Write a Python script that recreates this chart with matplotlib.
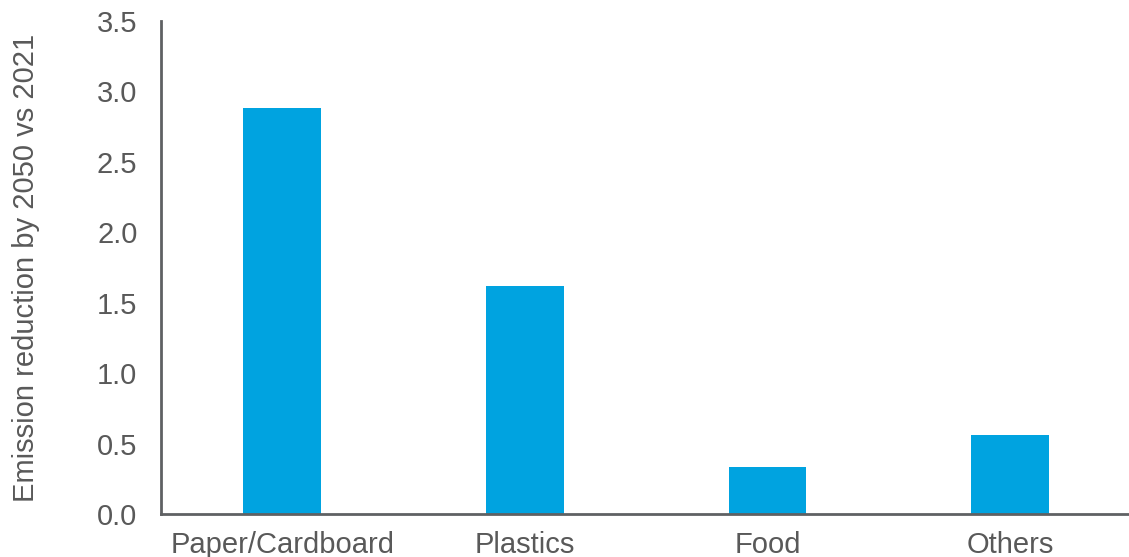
import matplotlib.pyplot as plt

# values
categories = ['Paper/Cardboard', 'Plastics', 'Food', 'Others']
reduction = [2.88, 1.62, 0.335, 0.56]
y_ticks = [0.0, 0.5, 1.0, 1.5, 2.0, 2.5, 3.0, 3.5]

plt.rcParams['font.family'] = ['Liberation Sans', 'DejaVu Sans']

fig = plt.figure(figsize=(11.29, 5.57), dpi=100)
ax = fig.add_axes([0.1426, 0.0772, 0.8574, 0.8851])

ax.bar(range(len(categories)), reduction, width=0.32, color='#00A3E0')

ax.set_xlim(-0.5, 3.49)
ax.set_ylim(0, 3.5)
ax.set_yticks(y_ticks)
ax.set_yticklabels([f'{v:.1f}' for v in y_ticks])
ax.set_xticks(range(len(categories)))
ax.set_xticklabels(categories)

for s in ['top', 'right']:
    ax.spines[s].set_visible(False)
for s in ['left', 'bottom']:
    ax.spines[s].set_color('#5f6163')
    ax.spines[s].set_linewidth(2)

ax.tick_params(axis='both', length=0, labelsize=21, colors='#595959')
ax.tick_params(axis='y', pad=17)
ax.tick_params(axis='x', pad=12)

ax.set_ylabel('Emission reduction by 2050 vs 2021', fontsize=21, color='#595959')
ax.yaxis.set_label_coords(-0.125, 0.5)

fig.savefig('out.png', dpi=100)
